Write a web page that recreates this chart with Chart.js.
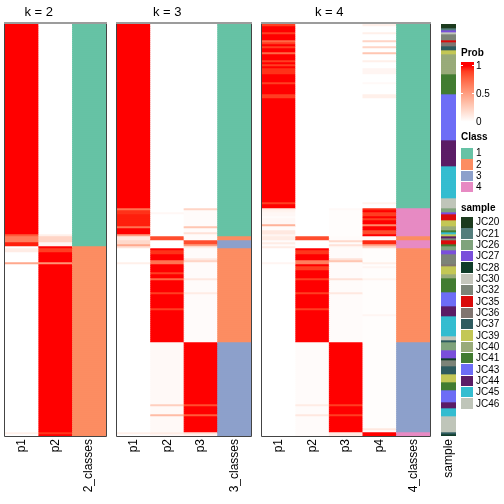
<!DOCTYPE html>
<html>
<head>
<meta charset="utf-8">
<script src="https://cdn.jsdelivr.net/npm/chart.js@4.4.0/dist/chart.umd.min.js"></script>
<style>
  body { margin: 0; background: #fff; font-family: "Liberation Sans", Arial, sans-serif; }
  #wrap { position: relative; width: 504px; height: 504px; overflow: hidden; }
  #wrap canvas { position: absolute; top: 0; }
  .lg { position: absolute; font-size: 10px; color: #000; white-space: nowrap; line-height: 12px; }
  .lg.head { font-weight: bold; }
  .box { position: absolute; }
</style>
</head>
<body>
<div id="wrap">
  <canvas id="k2" width="105" height="504" style="left:3px"></canvas>
  <canvas id="k3" width="138" height="504" style="left:115px"></canvas>
  <canvas id="k4" width="172" height="504" style="left:260px"></canvas>
  <canvas id="smp" width="63" height="504" style="left:417px"></canvas>
  <div id="legend"></div>
</div>
<script>
// ===== DATA (run-length: [number of rows, value]) =====
const N_ROWS = 206;

// k = 2
const k2Cols = ['p1', 'p2', '2_classes'];
const k2P1 = [[105,1],[1,0.8],[3,0.65],[2,0.97],[1,0],[2,0.1],[5,0],[1,0.45],[84,0],[1,0.08],[1,0]];
const k2P2 = [[105,0],[1,0.08],[3,0.22],[2,0.05],[1,1],[2,0.9],[5,1],[1,0.55],[84,1],[1,0.92],[1,1]];
const k2Class = [[111,1],[95,2]];

// k = 3
const k3Cols = ['p1', 'p2', 'p3', '3_classes'];
const k3P1 = [[92,1],[1,0.7],[2,0.93],[6,0.97],[1,0.7],[3,1],[1,0.5],[2,0.12],[2,0.2],[1,0.45],[1,0.15],
  [7,0],[1,0.08],[39,0],[45,0],[1,0.08],[1,0]];
const k3P2 = [[94,0],[1,0.04],[11,0],[2,0.85],[4,0],[1,1],[2,0.93],[3,1],[2,0.7],[4,1],[1,0.9],[2,1],[1,0.75],
  [6,1],[1,0.9],[7,1],[1,0.9],[16,1],[31,0.03],[1,0.25],[4,0.03],[1,0.35],[8,0.03],[1,0.1],[1,0.03]];
const k3P3 = [[92,0],[1,0.22],[8,0.02],[1,0.3],[2,0.02],[1,0.15],[1,0.02],[2,0.02],[2,0.85],[1,0.5],[1,0.1],
  [5,0.02],[1,0.12],[1,0.22],[8,0.02],[1,0.12],[6,0.02],[1,0.1],[24,0.02],
  [31,1],[1,0.85],[4,1],[1,0.8],[8,1],[1,0.15],[1,0.05]];
const k3Class = [[106,1],[2,2],[4,3],[47,2],[47,3]];

// k = 4
const k4Cols = ['p1', 'p2', 'p3', 'p4', '4_classes'];
const k4P1 = [[1,0.9],[3,1],[1,0.9],[3,1],[1,0.75],[1,0.9],[1,1],[1,0.9],[2,1],[1,0.75],[3,1],[1,0.9],[1,1],
  [1,0.9],[1,1],[3,0.93],[4,1],[1,0.9],[5,1],[2,0.9],[52,1],[1,0.9],[2,1],
  [1,0.1],[1,0.06],[2,0.04],[1,0.02],[3,0.04],[1,0.4],[2,0.02],[2,0.12],[1,0.05],
  [2,0.1],[1,0.02],[1,0.1],[1,0.02],[1,0.1],[7,0],[1,0.05],[39,0],[45,0],[2,0]];
const k4P2 = [[92,0],[14,0],[2,0.85],[4,0],[1,1],[2,0.92],[3,1],[2,0.65],[1,1],[2,0.9],[4,1],[1,0.9],[6,1],
  [1,0.9],[7,1],[1,0.9],[16,1],[31,0.02],[1,0.1],[4,0.02],[1,0.12],[8,0.02],[2,0.02]];
const k4P3 = [[92,0],[1,0.03],[13,0.01],[2,0.02],[1,0.2],[1,0.02],[1,0.15],[1,0.03],[5,0.02],[1,0.15],[1,0.3],
  [8,0.02],[1,0.15],[6,0.02],[1,0.12],[24,0.02],[31,1],[1,0.9],[4,1],[1,0.9],[8,1],[2,0.1]];
const k4P4 = [[1,0.08],[3,0],[1,0.08],[3,0],[1,0.22],[2,0],[1,0.22],[2,0],[1,0.3],[3,0],[1,0.08],[3,0],
  [3,0.05],[4,0],[1,0.03],[5,0],[2,0.08],[52,0],[1,0.06],[2,0],
  [1,0.95],[1,1],[2,0.9],[1,1],[1,0.9],[2,1],[1,0.6],[2,1],[2,0.85],[1,1],
  [2,0.02],[2,0.95],[1,0.45],[1,0.2],
  [7,0.01],[1,0.08],[1,0.01],[1,0.05],[5,0.01],[1,0.06],[17,0.01],[1,0.05],[13,0.01],
  [43,0.01],[1,0.12],[1,0.02],[2,1]];
const k4Class = [[92,1],[14,4],[2,2],[4,4],[47,2],[45,3],[2,4]];

// sample annotation
const sampleRuns = [[2,'JC20'],[1,'JC21'],[1,'JC27'],[1,'JC46'],[3,'JC32'],[1,'JC35'],[2,'JC36'],[2,'JC37'],
  [2,'JC39'],[10,'JC40'],[10,'JC41'],[23,'JC43'],[13,'JC44'],[16,'JC45'],[5,'JC46'],[2,'JC26'],[1,'JC27'],
  [3,'JC35'],[3,'JC39'],[2,'JC40'],[1,'JC41'],[1,'JC45'],[1,'JC39'],[1,'JC44'],[1,'JC32'],[2,'JC35'],
  [1,'JC41'],[2,'JC26'],[2,'JC27'],[5,'JC32'],[1,'JC36'],[4,'JC39'],[2,'JC40'],[7,'JC41'],[7,'JC43'],
  [5,'JC44'],[10,'JC45'],[2,'JC46'],[1,'JC37'],[4,'JC26'],[4,'JC27'],[1,'JC28'],[3,'JC32'],[4,'JC37'],
  [4,'JC39'],[4,'JC41'],[6,'JC43'],[3,'JC44'],[4,'JC45'],[8,'JC46'],[1,'JC37'],[1,'JC28']];

const classNames = ['1', '2', '3', '4'];
const classColors = ['#66c2a5', '#fc8d62', '#8da0cb', '#e78ac3'];
const sampleNames = ['JC20','JC21','JC26','JC27','JC28','JC30','JC32','JC35','JC36','JC37','JC39','JC40','JC41','JC43','JC44','JC45','JC46'];
const sampleColors = ['#1c3b1e','#547e7c','#7fa37c','#7a4fdb','#113d2a','#c5c6bc','#7c8478','#da0b0b','#807570',
  '#2e5b5f','#c3c755','#99ab79','#427c31','#6d6df6','#5b1d66','#34bdd0','#bfc5b9'];
const probTicks = [1, 0.5, 0];

// ===== HELPERS =====
function expand(runs) {
  const out = [];
  runs.forEach(([n, v]) => { for (let i = 0; i < n; i++) out.push(v); });
  return out;
}

// white -> red, interpolated in LAB like circlize::colorRamp2
const RED_LAB = [53.24, 80.09, 67.20];
function probColor(v) {
  const L = 100 + (RED_LAB[0] - 100) * v, A = RED_LAB[1] * v, B = RED_LAB[2] * v;
  const fy = (L + 16) / 116, fx = fy + A / 500, fz = fy - B / 200;
  const f = t => t > 0.206893 ? t * t * t : (t - 16 / 116) / 7.787;
  const X = 0.95047 * f(fx), Y = f(fy), Z = 1.08883 * f(fz);
  const r = 3.2406 * X - 1.5372 * Y - 0.4986 * Z;
  const g = -0.9689 * X + 1.8758 * Y + 0.0415 * Z;
  const b = 0.0557 * X - 0.2040 * Y + 1.0570 * Z;
  const gam = c => {
    c = Math.min(1, Math.max(0, c));
    return Math.round(255 * (c <= 0.0031308 ? 12.92 * c : 1.055 * Math.pow(c, 1 / 2.4) - 0.055));
  };
  return `rgb(${gam(r)},${gam(g)},${gam(b)})`;
}

const classColor = c => classColors[classNames.indexOf(String(c))];
const sampleColor = s => sampleColors[sampleNames.indexOf(s)];

// draws the frame and the "k = n" title centred over the probability columns
const panelFrame = {
  id: 'panelFrame',
  afterDraw(chart, args, opts) {
    const { ctx, chartArea: a, scales: { x } } = chart;
    ctx.save();
    if (opts.frame) {
      ctx.strokeStyle = '#9c9c9c';
      ctx.lineWidth = 2;
      ctx.beginPath();
      ctx.moveTo(a.left - 1, a.top - 1);
      ctx.lineTo(a.right + 1, a.top - 1);
      ctx.stroke();
      ctx.strokeStyle = '#444';
      ctx.lineWidth = 1;
      ctx.beginPath();
      ctx.moveTo(a.left - 0.5, a.top);
      ctx.lineTo(a.left - 0.5, a.bottom + 0.5);
      ctx.lineTo(a.right + 0.5, a.bottom + 0.5);
      ctx.lineTo(a.right + 0.5, a.top);
      ctx.stroke();
    }
    if (opts.title) {
      const colW = (a.right - a.left) / x.ticks.length;
      const cx = a.left + colW * opts.probCols / 2;
      ctx.fillStyle = '#000';
      ctx.font = '13px "Liberation Sans", Arial, sans-serif';
      ctx.textAlign = 'center';
      ctx.textBaseline = 'alphabetic';
      ctx.fillText(opts.title, cx, 15.5);
    }
    ctx.restore();
  }
};

function heatmap(canvasId, labels, columns, colorFns, pad, frameOpts) {
  const cols = columns.map(expand);
  const datasets = [];
  for (let r = 0; r < N_ROWS; r++) {
    datasets.push({
      data: labels.map(() => 1),
      backgroundColor: cols.map((col, i) => colorFns[i](col[r])),
      borderWidth: 0,
      barPercentage: 1,
      categoryPercentage: 1
    });
  }
  return new Chart(document.getElementById(canvasId), {
    type: 'bar',
    data: { labels: labels, datasets: datasets },
    options: {
      responsive: false,
      animation: false,
      events: [],
      layout: { padding: { top: 24, bottom: 0, left: pad, right: pad } },
      plugins: {
        legend: { display: false },
        tooltip: { enabled: false },
        panelFrame: frameOpts
      },
      scales: {
        x: {
          stacked: true,
          grid: { display: false, drawTicks: false },
          border: { display: false },
          ticks: {
            minRotation: 90, maxRotation: 90, autoSkip: false, padding: 3, color: '#000',
            font: { family: '"Liberation Sans", Arial, sans-serif', size: 12 }
          },
          afterFit(scale) { scale.height = 68; }
        },
        y: { stacked: true, reverse: true, min: 0, max: N_ROWS, display: false }
      }
    },
    plugins: [panelFrame]
  });
}

heatmap('k2', k2Cols, [k2P1, k2P2, k2Class], [probColor, probColor, classColor], 2,
  { frame: true, title: 'k = 2', probCols: 2 });
heatmap('k3', k3Cols, [k3P1, k3P2, k3P3, k3Class], [probColor, probColor, probColor, classColor], 2,
  { frame: true, title: 'k = 3', probCols: 3 });
heatmap('k4', k4Cols, [k4P1, k4P2, k4P3, k4P4, k4Class], [probColor, probColor, probColor, probColor, classColor], 2,
  { frame: true, title: 'k = 4', probCols: 4 });
heatmap('smp', ['sample'], [sampleRuns], [sampleColor], 24, { frame: false });

// ===== LEGENDS =====
const legend = document.getElementById('legend');
function add(html, cls, style) {
  const d = document.createElement('div');
  d.className = cls;
  d.textContent = html;
  Object.assign(d.style, style);
  legend.appendChild(d);
  return d;
}

// Prob colour bar
add('Prob', 'lg head', { left: '461px', top: '47px' });
const gradTop = 62, gradH = 63, v1y = 3.7, vSpan = 56;
const stops = [];
for (let i = 0; i <= 10; i++) {
  const v = 1 - i / 10;
  stops.push(`${probColor(v)} ${((v1y + (1 - v) * vSpan) / gradH * 100).toFixed(1)}%`);
}
add('', 'box', {
  left: '461px', top: gradTop + 'px', width: '13px', height: gradH + 'px',
  background: `linear-gradient(to bottom, ${probColor(1)} 0%, ${stops.join(', ')}, #ffffff 100%)`
});
probTicks.forEach(v => {
  const y = gradTop + v1y + (1 - v) * vSpan;
  add(String(v), 'lg', { left: '476px', top: (y - 6) + 'px' });
  add('', 'box', { left: '461px', top: (y - 0.5) + 'px', width: '2px', height: '1px', background: '#fff' });
  add('', 'box', { left: '472px', top: (y - 0.5) + 'px', width: '2px', height: '1px', background: '#fff' });
});

// Class
add('Class', 'lg head', { left: '461px', top: '131px' });
classNames.forEach((c, i) => {
  const top = 148 + i * 11.33;
  add('', 'box', { left: '461px', top: top + 'px', width: '12px', height: '10.5px', background: classColors[i] });
  add(c, 'lg', { left: '476px', top: (top + 5.25 - 6) + 'px' });
});

// sample
add('sample', 'lg head', { left: '461px', top: '202px' });
sampleNames.forEach((s, i) => {
  const top = 217 + i * 11.33;
  add('', 'box', { left: '461px', top: top + 'px', width: '12px', height: '10.5px', background: sampleColors[i] });
  add(s, 'lg', { left: '476px', top: (top + 5.25 - 6) + 'px' });
});
</script>
</body>
</html>
